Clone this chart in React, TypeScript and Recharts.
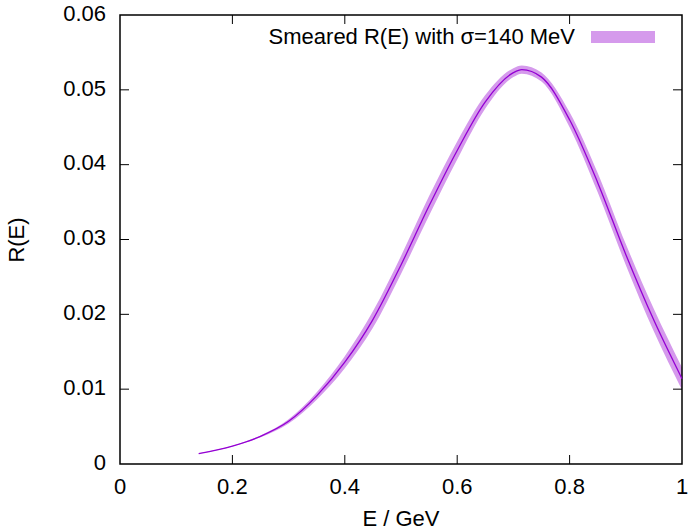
import React from "react";
import {
  ComposedChart,
  Area,
  Line,
  XAxis,
  YAxis,
  ReferenceArea,
} from "recharts";

// energies (GeV) and smeared R(E)
const energies = [0.14, 0.2, 0.25, 0.3, 0.35, 0.4, 0.45, 0.5, 0.55, 0.6, 0.65, 0.7, 0.715, 0.75, 0.8, 0.85, 0.9, 0.95, 1.0];
const rValues = [0.0014, 0.0024, 0.0037, 0.0057, 0.0091, 0.0136, 0.0193, 0.0266, 0.0345, 0.0419, 0.0484, 0.0523, 0.0527, 0.0517, 0.046, 0.0376, 0.028, 0.0192, 0.0114];
const rErrors = [0.00002, 0.00005, 0.00012, 0.00028, 0.0005, 0.0008, 0.0011, 0.0012, 0.0013, 0.0012, 0.0009, 0.0006, 0.00055, 0.0006, 0.001, 0.0013, 0.0014, 0.0015, 0.0015];

const xTicks = [0, 0.2, 0.4, 0.6, 0.8, 1];
const yTicks = [0, 0.01, 0.02, 0.03, 0.04, 0.05, 0.06];

const legendLabel = "Smeared R(E) with σ=140 MeV";

const W = 690;
const H = 531;
const LEFT = 120;
const RIGHT = 682;
const TOP = 15;
const BOTTOM = 464;
const FONT = "Liberation Sans, Arial, sans-serif";
const FS = 22;
const BAND = "#d59aec";
const LINE = "#9400d3";

const data = energies.map((e, i) => ({
  e,
  r: rValues[i],
  band: [rValues[i] - rErrors[i], rValues[i] + rErrors[i]],
}));

function XTick(props: any) {
  const { x, payload } = props;
  const v = payload.value;
  const inner = v !== 0 && v !== 1;
  return (
    <g>
      {inner && <line x1={x} x2={x} y1={BOTTOM} y2={BOTTOM - 9} stroke="#000" strokeWidth={1} />}
      {inner && <line x1={x} x2={x} y1={TOP} y2={TOP + 9} stroke="#000" strokeWidth={1} />}
      <text x={x} y={BOTTOM + 24} textAnchor="middle" dominantBaseline="middle" fontSize={FS} fontFamily={FONT} fill="#000">
        {String(v)}
      </text>
    </g>
  );
}

function YTick(props: any) {
  const { y, payload } = props;
  const v = payload.value;
  const inner = v !== 0 && v !== 0.06;
  return (
    <g>
      {inner && <line x1={LEFT} x2={LEFT + 9} y1={y} y2={y} stroke="#000" strokeWidth={1} />}
      {inner && <line x1={RIGHT} x2={RIGHT - 9} y1={y} y2={y} stroke="#000" strokeWidth={1} />}
      <text x={LEFT - 14} y={y} textAnchor="end" dominantBaseline="middle" fontSize={FS} fontFamily={FONT} fill="#000">
        {String(v)}
      </text>
    </g>
  );
}

export default function App() {
  return (
    <div style={{ position: "absolute", left: 0, top: 0, width: W, height: H, background: "#fff" }}>
      <ComposedChart width={W} height={H} data={data} margin={{ top: TOP, right: W - RIGHT, bottom: 0, left: 0 }}>
        <XAxis
          dataKey="e"
          type="number"
          domain={[0, 1]}
          ticks={xTicks}
          axisLine={false}
          tickLine={false}
          tickSize={0}
          height={H - BOTTOM}
          tick={(p: any) => <XTick {...p} />}
        />
        <YAxis
          type="number"
          domain={[0, 0.06]}
          ticks={yTicks}
          axisLine={false}
          tickLine={false}
          tickSize={0}
          width={LEFT}
          tick={(p: any) => <YTick {...p} />}
        />
        <Area
          dataKey="band"
          type="monotone"
          stroke="none"
          fill={BAND}
          fillOpacity={1}
          isAnimationActive={false}
        />
        <Line
          dataKey="r"
          type="monotone"
          stroke={LINE}
          strokeWidth={1.3}
          dot={false}
          isAnimationActive={false}
        />
        <ReferenceArea x1={0} x2={1} y1={0} y2={0.06} stroke="#000" strokeWidth={1.5} fill="none" fillOpacity={0} ifOverflow="visible" />
      </ComposedChart>
      <div style={{ position: "absolute", left: 0, top: 0, pointerEvents: "none" }}>
        <svg width={W} height={H}>
          <text x={575} y={38} textAnchor="end" dominantBaseline="middle" fontSize={FS} fontFamily={FONT} fill="#000">
            {legendLabel}
          </text>
          <rect x={591} y={31} width={64} height={12} fill={BAND} />
          <text x={401} y={520} textAnchor="middle" dominantBaseline="middle" fontSize={FS} fontFamily={FONT} fill="#000">
            E / GeV
          </text>
          <text
            x={18}
            y={240}
            textAnchor="middle"
            dominantBaseline="middle"
            fontSize={FS}
            fontFamily={FONT}
            fill="#000"
            transform="rotate(-90 18 240)"
          >
            R(E)
          </text>
        </svg>
      </div>
    </div>
  );
}
